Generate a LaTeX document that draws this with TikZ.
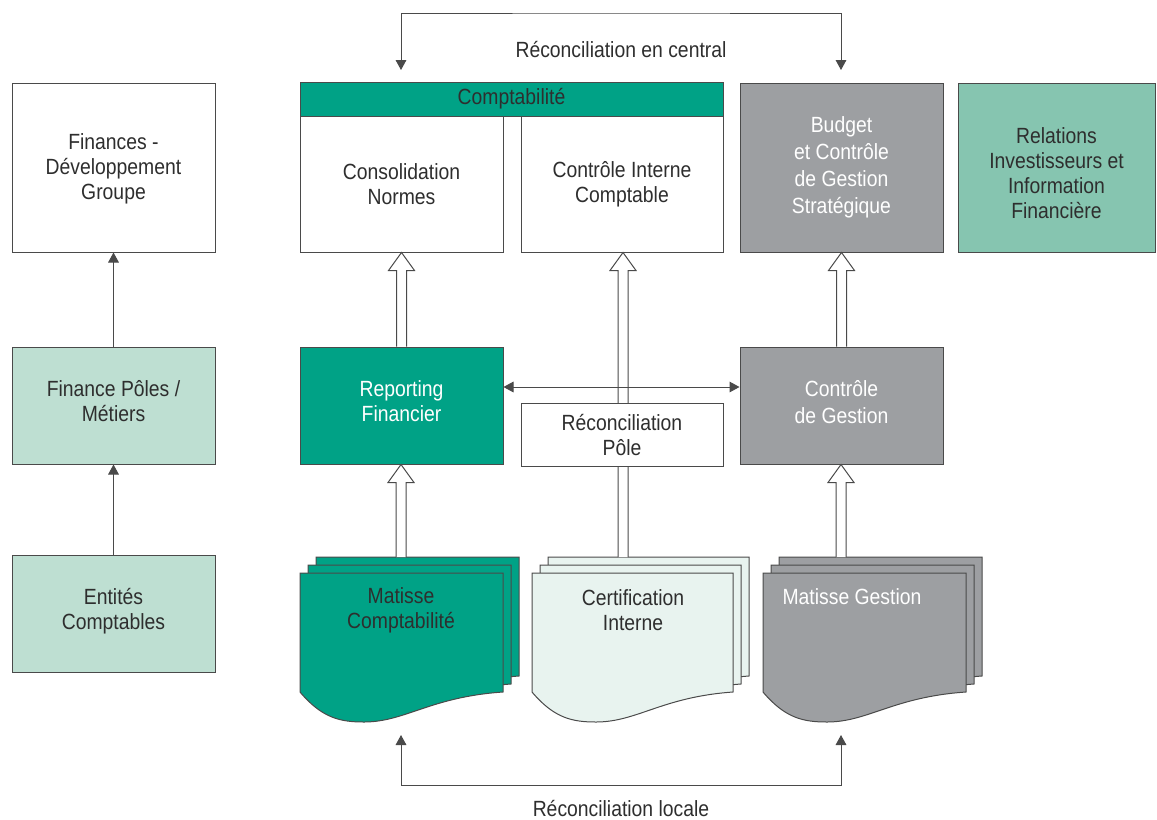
\documentclass[tikz,border=0pt]{standalone}
\usepackage{fontspec}
\setmainfont[FakeStretch=0.88]{Liberation Sans}
\usetikzlibrary{arrows.meta,calc}
\definecolor{cteal}{HTML}{00A286}
\definecolor{lgreen}{HTML}{BEDFD2}
\definecolor{mgreen}{HTML}{86C5B0}
\definecolor{cgray}{HTML}{9D9FA2}
\definecolor{pale}{HTML}{E8F3EF}
\definecolor{ln}{HTML}{4A4A4A}
\definecolor{txt}{HTML}{2E2E2E}
\tikzset{
  box/.style={draw=ln, line width=0.75pt, minimum width=152.25pt, inner sep=0pt, align=center},
  tall/.style={minimum height=126.75pt},
  mid/.style={minimum height=87.75pt},
  wtext/.style={text=white},
  arr/.style={draw=ln, line width=0.75pt, -{Triangle[width=8pt,length=7.5pt]}},
  darr/.style={draw=ln, line width=0.75pt, {Triangle[width=8pt,length=7.5pt]}-{Triangle[width=8pt,length=7.5pt]}},
  harrow/.style={draw=ln, line width=0.75pt, fill=white},
  docline/.style={draw=ln, line width=0.75pt}
}
\newcommand{\hollowup}[2]{%
  \path[harrow] let \p1=(#1), \p2=(#2) in
    (\x1-3.75pt,\y1) -- (\x1-3.75pt,\y2-13.5pt) -- (\x1-9.75pt,\y2-13.5pt) -- (\x1,\y2)
    -- (\x1+9.75pt,\y2-13.5pt) -- (\x1+3.75pt,\y2-13.5pt) -- (\x1+3.75pt,\y1);}
\newcommand{\docstack}[4]{% x0, top y, width, fill
  \foreach \d in {16,8,0}{
    \filldraw[docline, fill=#4] ({#1+\d},{#2-\d}) -- ({#1+\d+#3},{#2-\d}) -- ({#1+\d+#3},{#2-\d+119})
      .. controls ({#1+\d+130},{#2-\d+124}) and ({#1+\d+105},{#2-\d+149}) .. ({#1+\d+64},{#2-\d+149})
      .. controls ({#1+\d+40},{#2-\d+149}) and ({#1+\d+22},{#2-\d+145}) .. ({#1+\d},{#2-\d+119}) -- cycle;
  }}
\begin{document}
\begin{tikzpicture}[x=0.75pt,y=-0.75pt,
  every node/.style={font=\fontsize{16.5}{18.75}\selectfont, text=txt, align=center, inner sep=0pt}]
\useasboundingbox (0,0) rectangle (1157,819);

% left column
\node[box, tall, fill=white] (fin) at (113.5,167.5) {};
\node (fin-t) at (113.5,169) {Finances -\\Développement\\Groupe};
\node[box, mid, fill=lgreen] (fp) at (113.5,405.5) {};
\node (fp-t) at (113.5,401.5) {Finance Pôles /\\Métiers};
\node[box, mid, fill=lgreen] (ent) at (113.5,613.5) {};
\node (ent-t) at (113.5,611) {Entités\\Comptables};
\draw[arr] (ent.north) -- (fp.south);
\draw[arr] (fp.north) -- (fin.south);

% top row
\node[box, fill=cteal, minimum width=317.25pt, minimum height=25.5pt] (compta) at (511.5,99) {Comptabilité};
\node[box, fill=white, minimum height=102pt] (cons) at (401.5,184) {Consolidation\\Normes};
\node[box, fill=white, minimum width=151.5pt, minimum height=102pt] (cic) at (622,184) {Contrôle Interne\\Comptable};
\node[box, tall, fill=cgray, wtext, font=\fontsize{16.5}{20.25}\selectfont] (bud) at (841.5,167.5) {Budget\\et Contrôle\\de Gestion\\Stratégique};
\node[box, tall, fill=mgreen, minimum width=147.75pt] (rel) at (1056.5,167.5) {};
\node (rel-t) at (1056.5,173) {Relations\\Investisseurs et\\Information\\Financière};

% middle row
\node[box, mid, fill=cteal] (rep) at (401.5,405.5) {};
\node[wtext] (rep-t) at (401.5,401.5) {Reporting\\Financier};
\node[box, mid, fill=cgray] (cdg) at (841.5,405.5) {};
\node[wtext, font=\fontsize{16.5}{20.25}\selectfont] (cdg-t) at (841.5,402) {Contrôle\\de Gestion};

% document stacks
\docstack{300}{573}{203}{cteal}
\docstack{532}{573}{201}{pale}
\docstack{763}{573}{203}{cgray}
\node (mc) at (401,610) {Matisse\\Comptabilité};
\node (ci) at (633,610) {Certification\\Interne};
\node[wtext] (mg) at (852,597) {Matisse Gestion};
\coordinate (mcTop) at (401,557);
\coordinate (ciTop) at (623,557);
\coordinate (mgTop) at (841,557);

% hollow arrows
\hollowup{rep.north}{cons.south}
\hollowup{mcTop}{rep.south}
\hollowup{ciTop}{cic.south}
\hollowup{mgTop}{cdg.south}
\hollowup{cdg.north}{bud.south}

% horizontal double arrow and reconciliation pole
\coordinate (h) at (0,387);
\draw[darr] (rep.east |- h) -- (cdg.west |- h);
\node[box, fill=white, minimum width=151.5pt, minimum height=47.25pt] (rp) at (622,434.5) {Réconciliation\\Pôle};

% central reconciliation
\coordinate (tl) at (401,70);
\coordinate (tr) at (841,70);
\coordinate (top) at (621,13);
\draw[darr] (tl) |- (top) -| (tr);
\node (central) at (621,50) {Réconciliation en central};

% local reconciliation
\coordinate (bl) at (401,735);
\coordinate (br) at (841,735);
\coordinate (bot) at (621,785);
\draw[darr] (bl) |- (bot) -| (br);
\node (local) at (621,808) {Réconciliation locale};
\end{tikzpicture}
\end{document}
